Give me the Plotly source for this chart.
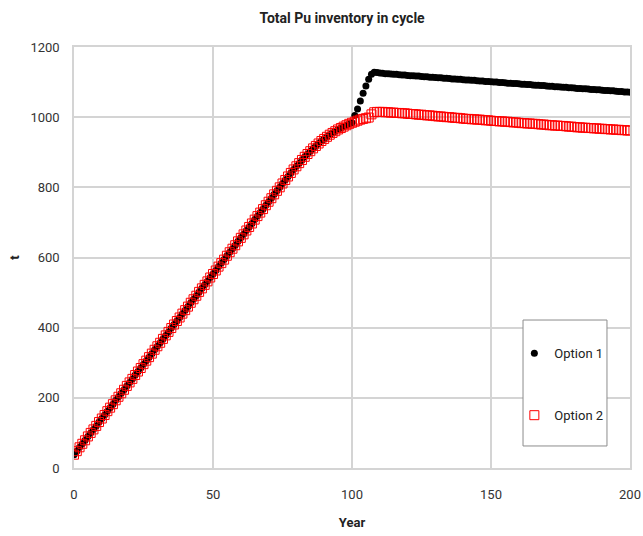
import plotly.graph_objects as go

years = list(range(0, 201))

# Shared ramp (years 0-100)
ramp = [38, 48, 59, 69, 79, 90, 100, 110, 120, 131,
        141, 151, 162, 172, 182, 193, 203, 213, 223, 234,
        244, 254, 265, 275, 285, 296, 306, 316, 326, 337,
        347, 357, 368, 378, 388, 399, 409, 419, 429, 440,
        450, 460, 471, 481, 491, 502, 512, 522, 532, 543,
        553, 563, 574, 584, 594, 605, 615, 625, 635, 646,
        656, 666, 677, 687, 697, 708, 718, 728, 738, 749,
        759, 769, 780, 790, 800, 811, 821, 831, 841, 851,
        860, 869, 878, 887, 895, 903, 911, 918, 925, 932,
        938, 944, 950, 955, 960, 965, 969, 973, 977, 981,
        984]

option1_tail = [1005, 1023, 1046, 1068, 1089, 1108, 1122, 1128, 1127, 1126,
                1125, 1124, 1124, 1123, 1122, 1122, 1121, 1120, 1120, 1119,
                1118, 1118, 1117, 1117, 1116, 1115, 1115, 1114, 1114, 1113,
                1112, 1112, 1111, 1111, 1110, 1109, 1109, 1108, 1108, 1107,
                1106, 1106, 1105, 1105, 1104, 1103, 1103, 1102, 1102, 1101,
                1100, 1100, 1099, 1099, 1098, 1097, 1097, 1096, 1096, 1095,
                1094, 1094, 1093, 1093, 1092, 1091, 1091, 1090, 1090, 1089,
                1088, 1088, 1087, 1087, 1086, 1085, 1085, 1084, 1084, 1083,
                1082, 1082, 1081, 1081, 1080, 1079, 1079, 1078, 1078, 1077,
                1076, 1076, 1075, 1075, 1074, 1073, 1073, 1072, 1072, 1071]

option2_tail = [987, 990, 993, 995, 997, 999, 1008, 1014, 1015, 1015,
                1015, 1014, 1014, 1013, 1013, 1012, 1012, 1011, 1011, 1010,
                1009, 1009, 1008, 1007, 1007, 1006, 1005, 1005, 1004, 1003,
                1002, 1002, 1001, 1000, 1000, 999, 998, 998, 997, 996,
                995, 995, 994, 994, 993, 993, 992, 991, 991, 990,
                989, 989, 988, 988, 987, 987, 986, 985, 985, 984,
                983, 983, 982, 982, 981, 981, 980, 979, 979, 978,
                977, 977, 976, 976, 975, 975, 974, 973, 973, 972,
                971, 971, 970, 970, 969, 969, 968, 968, 967, 967,
                966, 966, 965, 965, 964, 964, 963, 963, 962, 962]

option1 = ramp + option1_tail
option2 = ramp + option2_tail

x_ticks = [0, 50, 100, 150, 200]
y_ticks = [0, 200, 400, 600, 800, 1000, 1200]

FONT = "Roboto"
GRID = "#d4d4d4"

fig = go.Figure()
fig.add_trace(go.Scatter(
    x=years, y=option1, mode="markers", name="Option 1", legendgroup="a",
    marker=dict(symbol="circle", size=7, color="black", line=dict(width=0)),
))
fig.add_trace(go.Scatter(
    x=years, y=option2, mode="markers", name="Option 2", legendgroup="b",
    marker=dict(symbol="square-open", size=9, color="#ff0000", line=dict(width=1)),
))

# legend frame (paper coordinates)
fig.add_shape(type="rect", xref="paper", yref="paper",
              x0=0.8076, x1=0.9586, y0=0.0523, y1=0.3515,
              line=dict(color="#8c8c8c", width=1), fillcolor="white", layer="above")

fig.update_layout(
    width=643, height=536,
    margin=dict(l=74, r=13, t=47, b=68),
    paper_bgcolor="white", plot_bgcolor="white",
    font=dict(family=FONT, size=13, color="#333333"),
    title=dict(text="<b>Total Pu inventory in cycle</b>", x=0.532, xanchor="center",
               y=0.966, yanchor="middle", font=dict(family=FONT, size=14, color="#222222")),
    legend=dict(x=0.792, y=0.308, xanchor="left", yanchor="top",
                borderwidth=0, bgcolor="rgba(0,0,0,0)", itemwidth=30,
                tracegroupgap=42, font=dict(size=13, color="#222222")),
    showlegend=True,
)
fig.update_xaxes(
    range=[0, 200], tickvals=x_ticks, showgrid=True, gridcolor=GRID, gridwidth=1.5,
    showline=True, linecolor=GRID, linewidth=1.5, mirror=True, zeroline=False,
    ticks="", ticklabelstandoff=14, automargin=False,
    title=dict(text="<b>Year</b>", font=dict(size=13, color="#222222"), standoff=17),
)
fig.update_yaxes(
    range=[0, 1200], tickvals=y_ticks, showgrid=True, gridcolor=GRID, gridwidth=1.5,
    showline=True, linecolor=GRID, linewidth=1.5, mirror=True, zeroline=False,
    ticks="", ticklabelstandoff=10, automargin=False,
    title=dict(text="<b>t</b>", font=dict(size=13, color="#222222"), standoff=8),
)

fig.write_html("out.html", config={"displayModeBar": False},
               post_script="document.body.style.margin='0';")
